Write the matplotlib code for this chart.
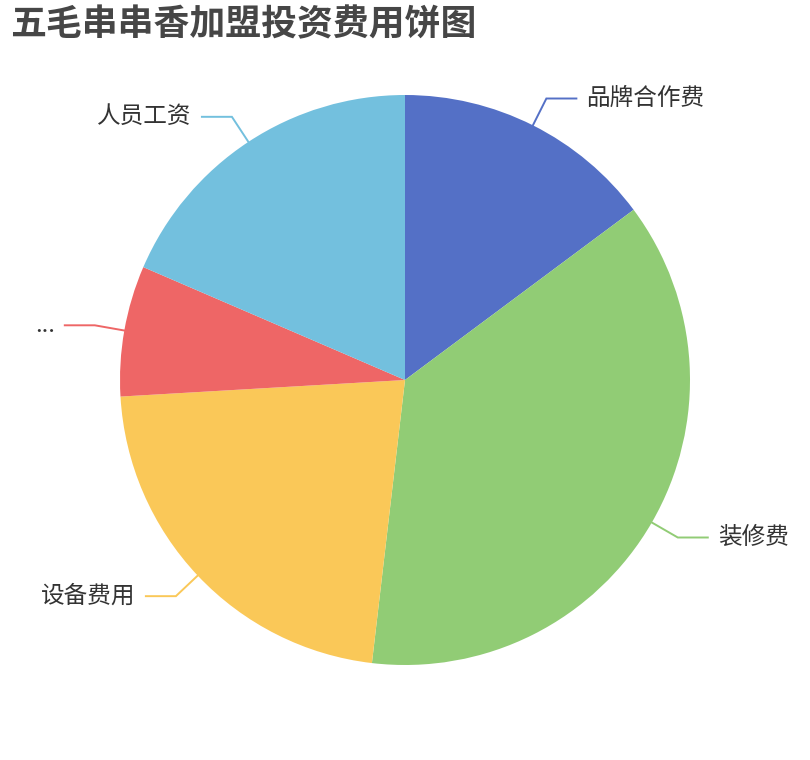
import numpy as np
import matplotlib
matplotlib.use("Agg")
import matplotlib.pyplot as plt

plt.rcParams['font.family'] = ['Noto Sans CJK SC', 'DejaVu Sans']

title = "五毛串串香加盟投资费用饼图"
categories = ["品牌合作费", "装修费", "设备费用", "...", "人员工资"]
values = [20000, 50000, 30000, 10000, 25000]
colors = ["#5470c6", "#91cc75", "#fac858", "#ee6666", "#73c0de"]

W, H = 810, 760
fig = plt.figure(figsize=(W / 100, H / 100), dpi=100)
ax = fig.add_axes([0, 0, 1, 1])

cx, cy, R = 405, H - 380, 285
wedges, _ = ax.pie(values, colors=colors, startangle=90, counterclock=False,
                   center=(cx, cy), radius=R, frame=True,
                   wedgeprops=dict(linewidth=0, antialiased=True))
ax.set_xlim(0, W)
ax.set_ylim(0, H)
ax.set_aspect('equal')
ax.axis('off')

len1, len2, gap = 30, 30, 10
for w, name, col in zip(wedges, categories, colors):
    mid = np.deg2rad((w.theta1 + w.theta2) / 2)
    c, s = np.cos(mid), np.sin(mid)
    p0 = (cx + R * c, cy + R * s)
    p1 = (cx + (R + len1) * c, cy + (R + len1) * s)
    sign = 1 if c >= 0 else -1
    p2 = (p1[0] + sign * len2, p1[1])
    ax.plot([p0[0], p1[0], p2[0]], [p0[1], p1[1], p2[1]], color=col, lw=1.4,
            solid_joinstyle='miter')
    ax.text(p2[0] + sign * gap, p2[1], name, ha='left' if sign > 0 else 'right',
            va='center', fontsize=17, color='#333333')

fig.text(10 / W, 1 - 6 / H, title, ha='left', va='top', fontsize=25.8,
         fontweight='bold', color='#464646')

fig.savefig("out.png", dpi=100)
